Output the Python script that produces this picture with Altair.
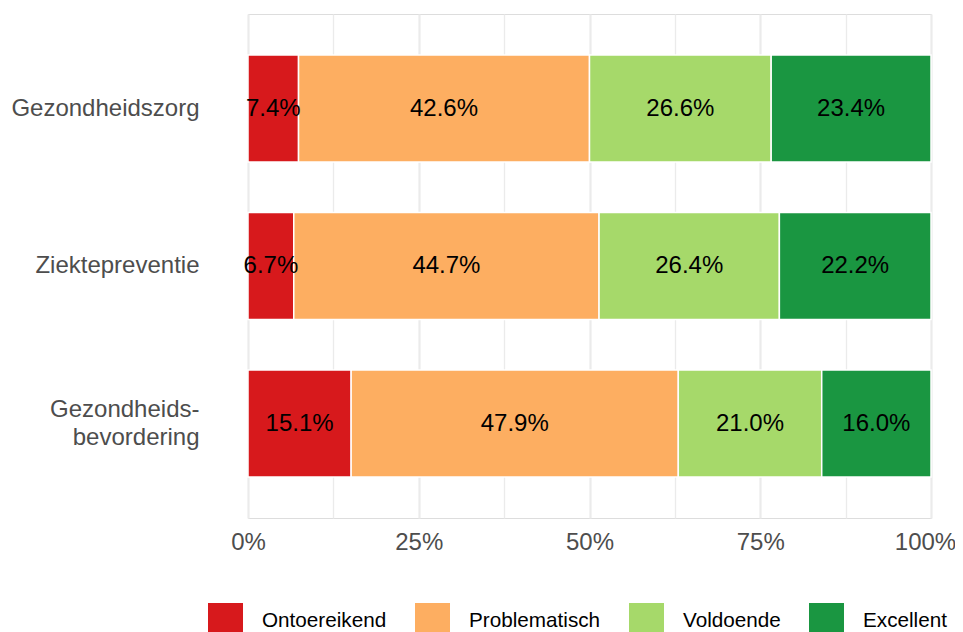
import altair as alt
import pandas as pd

categories = ["Gezondheidszorg", "Ziektepreventie", "Gezondheids-\nbevordering"]
levels = ["Ontoereikend", "Problematisch", "Voldoende", "Excellent"]
ontoereikend = [7.4, 6.7, 15.1]
problematisch = [42.6, 44.7, 47.9]
voldoende = [26.6, 26.4, 21.0]
excellent = [23.4, 22.2, 16.0]
colors = ["#d7191c", "#fdae61", "#a6d96a", "#1a9641"]
tick_values = [0, 12.5, 25, 37.5, 50, 62.5, 75, 87.5, 100]

series = [ontoereikend, problematisch, voldoende, excellent]
rows = []
for ci, cat in enumerate(categories):
    for li, lev in enumerate(levels):
        rows.append({"cat": cat, "level": lev, "order": li, "value": series[li][ci]})
df = pd.DataFrame(rows)

FONT = "Liberation Sans"

base = alt.Chart(df).transform_stack(
    stack="value", groupby=["cat"], as_=["x0", "x1"], sort=[alt.SortField("order")]
).transform_calculate(
    mid="(datum.x0 + datum.x1) / 2",
    lbl="format(datum.value, '.1f') + '%'"
)

yenc = alt.Y(
    "cat:N", sort=categories, title=None,
    scale=alt.Scale(paddingInner=0.32, paddingOuter=0.26),
    axis=alt.Axis(domain=False, ticks=False, grid=False, labelFontSize=24,
                  labelColor="#4d4d4d", labelPadding=49, labelLineHeight=28,
                  labelLimit=400,
                  labelOffset={"condition": {"test": "indexof(datum.value, '\\n') >= 0", "value": -14},
                               "value": 0},
                  labelExpr="split(datum.label, '\\n')", labelFont=FONT),
)

bars = base.mark_bar(stroke="white", strokeWidth=1.5).encode(
    x=alt.X("x0:Q", title=None,
            scale=alt.Scale(domain=[0, 100], nice=False, zero=True),
            axis=alt.Axis(values=tick_values, domain=False, ticks=False,
                          labelFlush=False,
                          labelExpr="datum.value % 25 === 0 ? datum.value + '%' : ''",
                          labelFontSize=24, labelColor="#4d4d4d", labelPadding=12,
                          labelOffset={"condition": {"test": "datum.value === 100", "value": -6},
                                       "value": 0},
                          labelFont=FONT, gridColor="#ebebeb",
                          gridWidth={"condition": {"test": "datum.value % 25 === 0", "value": 2.2},
                                     "value": 1.3})),
    x2="x1:Q",
    y=yenc,
    color=alt.Color("level:N", sort=levels,
                    scale=alt.Scale(domain=levels, range=colors),
                    legend=alt.Legend(orient="none", legendX=-40, legendY=589,
                                      direction="horizontal", title=None,
                                      symbolType="square", symbolSize=1225,
                                      symbolStrokeWidth=0, symbolOpacity=1,
                                      labelFontSize=20.7, labelColor="black",
                                      labelFont=FONT, labelOffset=19,
                                      columnPadding=28)),
)

texts = base.mark_text(fontSize=24, color="black", font=FONT).encode(
    x="mid:Q",
    y=alt.Y("cat:N", sort=categories),
    text="lbl:N",
)

chart = (bars + texts).properties(
    width=683, height=504,
    autosize=alt.AutoSizeParams(type="none"),
    padding={"top": 6, "left": 240, "right": 24, "bottom": 126},
).configure_view(stroke=None).configure(font=FONT)

chart.save("out.html", embed_options={"renderer": "svg", "actions": False})
